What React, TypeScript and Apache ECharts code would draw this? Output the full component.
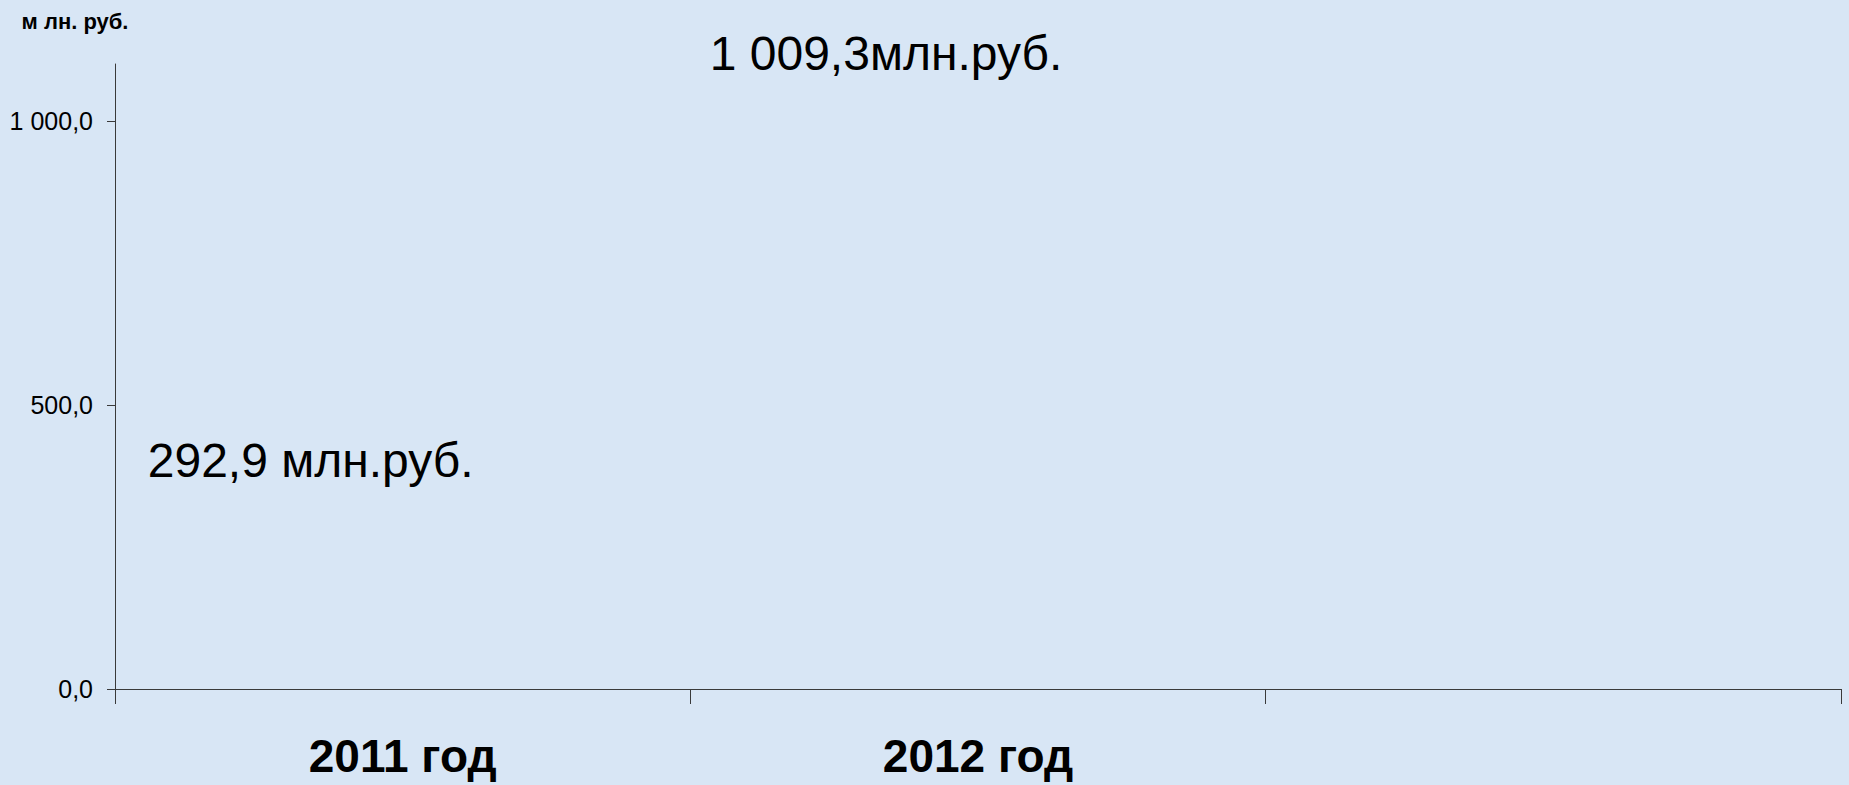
import React, { useEffect, useRef } from "react";
import * as echarts from "echarts";

const categories: string[] = ["2011 год", "2012 год", ""];
const values: (number | null)[] = [292.9, 1009.3, null];
const valueLabels: string[] = ["292,9 млн.руб.", "1 009,3млн.руб.", ""];
const yTicks: number[] = [0, 500, 1000];
const yAxisName = "м лн. руб.";

function fmtTick(v: number): string {
  const fixed = v.toFixed(1);
  const [intPart, dec] = fixed.split(".");
  const withSpaces = intPart.replace(/\B(?=(\d{3})+(?!\d))/g, " ");
  return withSpaces + "," + dec;
}

export default function App() {
  const ref = useRef<HTMLDivElement>(null);
  useEffect(() => {
    if (!ref.current) return;
    const chart = echarts.init(ref.current, undefined, { renderer: "svg" });
    const axisColor = "#3a3a3a";
    const font = "'Liberation Sans', Arial, sans-serif";
    chart.setOption({
      animation: false,
      backgroundColor: "#d8e6f5",
      grid: {
        left: 115,
        right: 8,
        top: 64,
        bottom: 96,
        containLabel: false,
        outerBoundsMode: "none",
      },
      xAxis: {
        type: "category",
        data: categories,
        boundaryGap: true,
        axisLine: { show: true, lineStyle: { color: axisColor, width: 1 } },
        axisTick: { show: true, length: 15, lineStyle: { color: axisColor } },
        axisLabel: {
          margin: 44,
          color: "#000",
          fontSize: 46,
          lineHeight: 46,
          fontWeight: "bold",
          fontFamily: font,
        },
        splitLine: { show: false },
      },
      yAxis: {
        type: "value",
        min: 0,
        max: 1100,
        interval: 500,
        name: yAxisName,
        nameLocation: "end",
        nameGap: 32,
        nameTextStyle: {
          color: "#000",
          fontSize: 22,
          fontWeight: "bold",
          fontFamily: font,
          align: "center",
          padding: [0, 80, 0, 0],
        },
        axisLine: { show: true, lineStyle: { color: axisColor, width: 1 } },
        axisTick: { show: true, length: 8, customValues: yTicks, lineStyle: { color: axisColor } },
        axisLabel: {
          customValues: yTicks,
          margin: 22,
          color: "#000",
          fontSize: 25,
          fontFamily: font,
          formatter: (v: number) => fmtTick(v),
        },
        splitLine: { show: false },
      },
      series: [
        {
          type: "bar",
          data: values,
          barWidth: "60%",
          itemStyle: { color: "rgba(0,0,0,0)" },
          label: {
            show: true,
            position: "top",
            distance: 38,
            offset: [-92, 0],
            color: "#000",
            fontSize: 48,
            fontFamily: font,
            formatter: (p: any) => valueLabels[p.dataIndex],
          },
        },
      ],
    });
    return () => chart.dispose();
  }, []);
  return (
    <div
      ref={ref}
      style={{ position: "fixed", left: 0, top: 0, width: "1849px", height: "785px" }}
    />
  );
}
